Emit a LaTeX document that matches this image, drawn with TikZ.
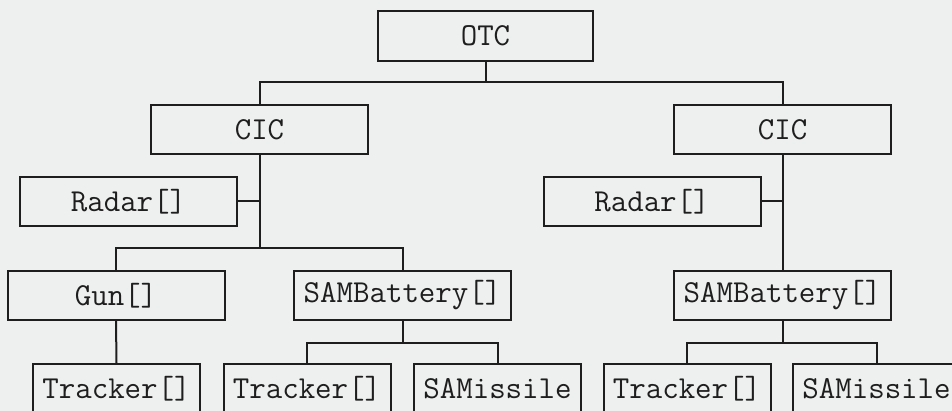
\documentclass[tikz,border=0pt]{standalone}
\definecolor{bg}{RGB}{238,240,239}
\definecolor{ink}{RGB}{30,30,30}
\begin{document}
\begin{tikzpicture}[x=1pt,y=-1pt,
  box/.style={draw=ink, line width=2pt, fill=none, minimum width=217pt, minimum height=49pt,
    inner sep=0pt, font=\fontsize{32}{38}\selectfont\ttfamily, text=ink},
  sbox/.style={box, minimum width=167pt},
  conn/.style={draw=ink, line width=2pt}]
\fill[bg] (0,0) rectangle (952,411);
\useasboundingbox (0,0) rectangle (952,411);
\clip (0,0) rectangle (952,411);
\node[box, minimum width=215pt, minimum height=50pt] (otc) at (485.5,36) {OTC};
\node[box] (cicL) at (259.5,129.5) {CIC};
\node[box] (cicR) at (782.5,129.5) {CIC};
\node[box] (radarL) at (128.5,201.5) {Radar[]};
\node[box] (radarR) at (652,201.5) {Radar[]};
\node[box] (gun) at (116,295.5) {Gun[]};
\node[box] (sambL) at (402.5,295.5) {SAMBattery[]};
\node[box] (sambR) at (782.5,295.5) {SAMBattery[]};
\node[sbox] (trkA) at (116.5,388.5) {Tracker[]};
\node[sbox] (trkB) at (307,388.5) {Tracker[]};
\node[sbox] (samB) at (497.5,388.5) {SAMissile};
\node[sbox] (trkC) at (687,388.5) {Tracker[]};
\node[sbox] (samC) at (876.5,388.5) {SAMissile};
\coordinate (j1) at (485.5,82);
\coordinate (jL2) at (259.5,248);
\coordinate (jL3) at (402.5,343);
\coordinate (jR3) at (782.5,343);
\path[conn] (otc.south) -- (j1);
\path[conn] (cicL.north) |- (j1);
\path[conn] (cicR.north) |- (j1);
\path[conn] (cicL.south) -- (jL2);
\path[conn] (radarL.east) -- (radarL.east -| cicL.south);
\path[conn] (gun.north) |- (jL2);
\path[conn] (sambL.north) |- (jL2);
\path[conn] (gun.south) -- (trkA.north);
\path[conn] (sambL.south) -- (jL3);
\path[conn] (trkB.north) |- (jL3);
\path[conn] (samB.north) |- (jL3);
\path[conn] (cicR.south) -- (sambR.north);
\path[conn] (radarR.east) -- (radarR.east -| cicR.south);
\path[conn] (sambR.south) -- (jR3);
\path[conn] (trkC.north) |- (jR3);
\path[conn] (samC.north) |- (jR3);
\end{tikzpicture}
\end{document}
